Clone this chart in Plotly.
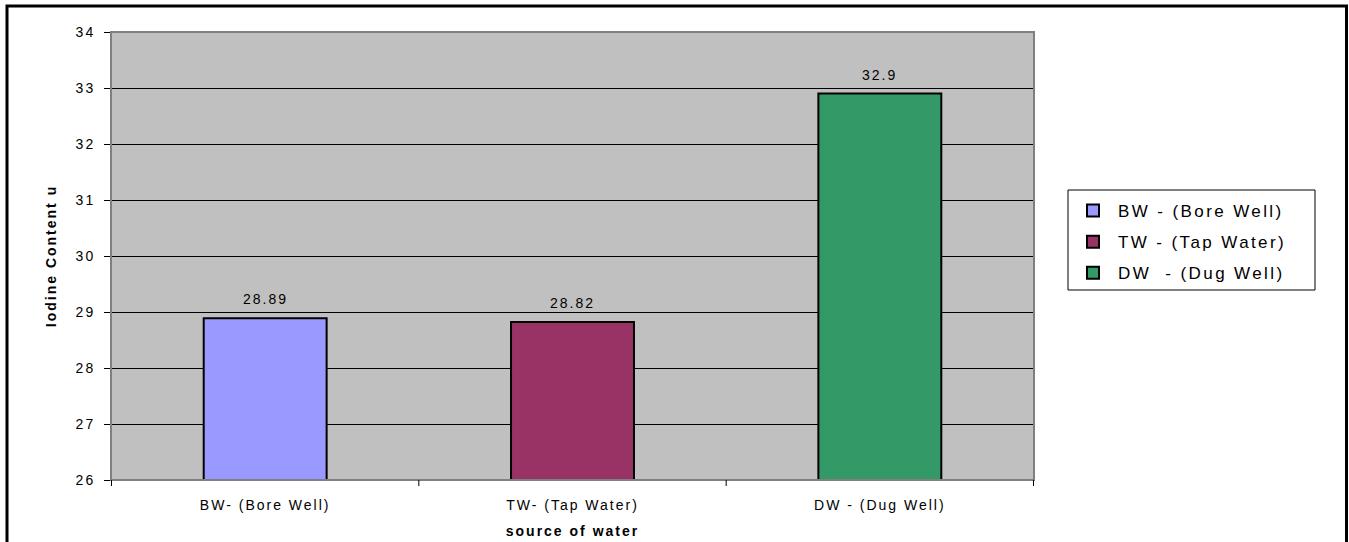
import plotly.graph_objects as go

# Iodine content by source of water
sources = ["BW- (Bore Well)", "TW- (Tap Water)", "DW - (Dug Well)"]
legend_names = ["BW - (Bore Well)", "TW - (Tap Water)", "DW  - (Dug Well)"]
iodine = [28.89, 28.82, 32.9]
colors = ["#9999FF", "#993366", "#339966"]
y_ticks = [26, 27, 28, 29, 30, 31, 32, 33, 34]
y_floor = 26

W, H = 1349, 542
L, R, T, B = 111, 315, 32, 62
PW, PH = W - L - R, H - T - B
FONT = "Liberation Sans, Arial, sans-serif"


def px_x(x):
    return (x - L) / PW


def px_y(y):
    return (H - B - y) / PH


fig = go.Figure()
for src, name, val, col in zip(sources, legend_names, iodine, colors):
    fig.add_trace(go.Bar(
        x=[src], y=[val - y_floor], base=y_floor, name=name, legendgroup=name,
        marker=dict(color=col, line=dict(color="black", width=2)),
        hoverinfo="x+name",
    ))
    # value label above each bar
    fig.add_annotation(
        x=src, y=val, text=f"{val:g}", showarrow=False,
        yanchor="middle", yshift=19,
        font=dict(family=FONT, size=14, color="black"),
    )

fig.update_layout(
    width=W, height=H,
    margin=dict(l=L, r=R, t=T, b=B, autoexpand=False),
    paper_bgcolor="white",
    plot_bgcolor="#C0C0C0",
    barmode="overlay",
    bargap=0.6,
    font=dict(family=FONT, size=14, color="black"),
    showlegend=True,
    legend=dict(
        x=px_x(1068), y=px_y(193),
        xanchor="left", yanchor="top",
        borderwidth=0, bgcolor="rgba(0,0,0,0)",
        font=dict(family=FONT, size=17),
        itemwidth=40, tracegroupgap=6,
    ),
    xaxis=dict(
        categoryorder="array", categoryarray=sources,
        showline=True, linecolor="black", linewidth=1,
        ticks="", showgrid=False, ticklabelstandoff=12,
        tickfont=dict(size=14),
        title=dict(text="<b>source of water</b>", font=dict(size=14), standoff=14),
    ),
    yaxis=dict(
        range=[26, 34], tickvals=y_ticks,
        showline=True, linecolor="black", linewidth=1,
        ticks="outside", ticklen=6, tickcolor="black",
        showgrid=True, gridcolor="black", gridwidth=1,
        zeroline=False, ticklabelstandoff=6,
        tickfont=dict(size=14),
        title=dict(text="<b>Iodine Content u</b>", font=dict(size=14), standoff=19),
    ),
    shapes=[
        # outline of the plot area
        dict(type="rect", xref="paper", yref="paper", x0=0, y0=0, x1=1, y1=1,
             line=dict(color="#808080", width=2), layer="above"),
        # legend frame
        dict(type="rect", xref="paper", yref="paper",
             x0=px_x(1068), x1=px_x(1315), y0=px_y(290), y1=px_y(190),
             line=dict(color="black", width=1), fillcolor="white"),
        # outer frame of the chart
        dict(type="rect", xref="paper", yref="paper",
             x0=px_x(7), x1=px_x(1346.5), y0=px_y(548), y1=px_y(6),
             line=dict(color="black", width=3)),
    ],
)

# category tick marks between bars
for k in range(len(sources) + 1):
    fig.add_shape(type="line", xref="x", yref="paper",
                  x0=k - 0.5, x1=k - 0.5, y0=0, y1=-6 / PH,
                  line=dict(color="black", width=1))

# wider letter spacing on all chart text; legend labels are allowed to
# run past plotly's measured legend width
post = """
var st = document.createElement('style');
st.textContent = 'svg text { letter-spacing: 2px; } .legendtext { letter-spacing: 2.4px; }'
  + ' .legend .scrollbox, .legend { clip-path: none !important; }';
document.head.appendChild(st);
"""

fig.write_html("out.html", config={"displayModeBar": False}, post_script=post)
